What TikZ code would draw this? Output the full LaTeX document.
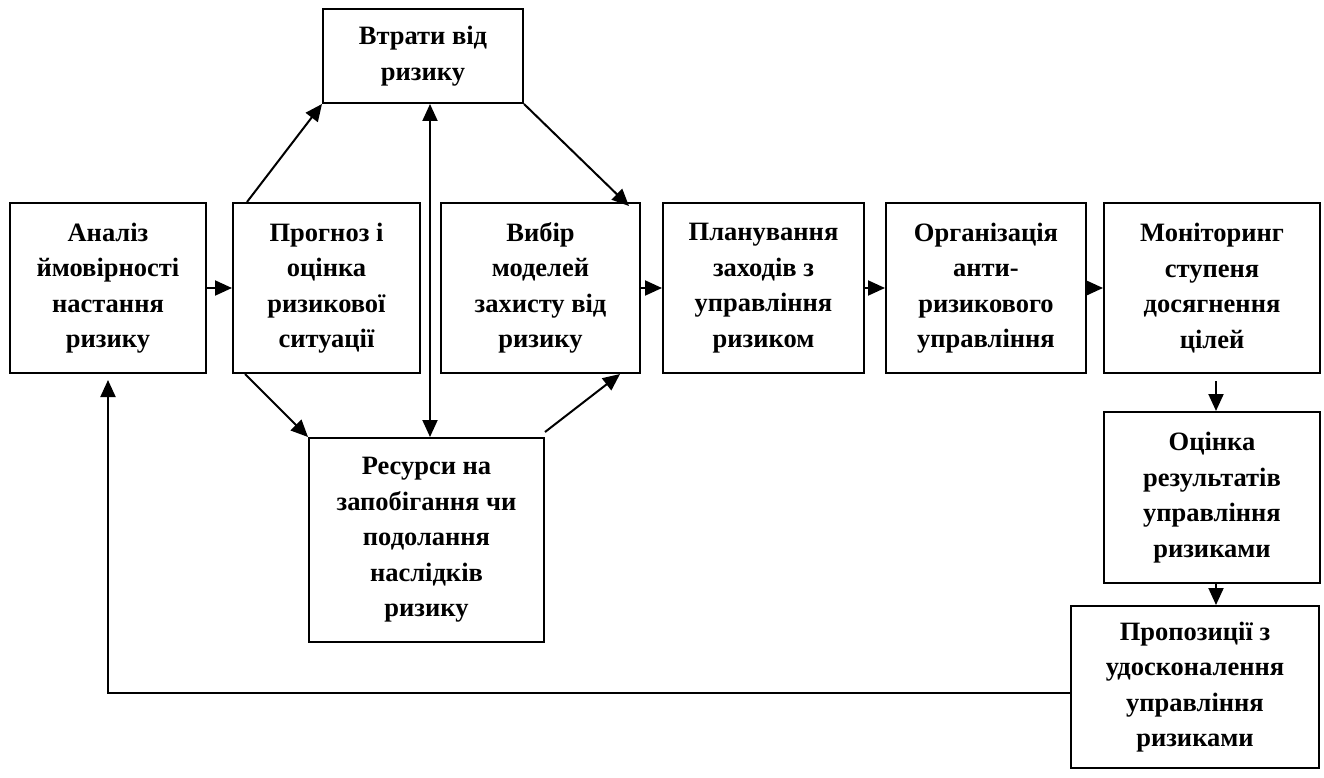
\documentclass[tikz,border=0pt]{standalone}
\usepackage{fontspec}
\setmainfont{Liberation Serif}
\usetikzlibrary{arrows.meta,calc}
\begin{document}
\begin{tikzpicture}[x=1pt,y=-1pt,
  box/.style={draw,line width=2pt,inner sep=0pt,align=center,
    font=\fontsize{26.5}{35.5}\selectfont\bfseries},
  conn/.style={line width=2pt,-{Triangle[length=17pt,width=15pt]}},
  dconn/.style={line width=2pt,{Triangle[length=17pt,width=15pt]}-{Triangle[length=17pt,width=15pt]}}]
\useasboundingbox (0,0) rectangle (1324,778);
\fill[white] (0,0) rectangle (1324,778);

\node[box,minimum width=196pt,minimum height=170pt] (b1) at (108,288) {Аналіз\\ймовірності\\настання\\ризику};
\node[box,minimum width=187pt,minimum height=170pt] (b2) at (326.5,288) {Прогноз і\\оцінка\\ризикової\\ситуації};
\node[box,minimum width=200pt,minimum height=94pt] (loss) at (423,56) {Втрати від\\ризику};
\node[box,minimum width=199pt,minimum height=170pt] (b4) at (540.5,288) {Вибір\\моделей\\захисту від\\ризику};
\node[box,minimum width=235pt,minimum height=204pt] (res) at (426.5,540) {Ресурси на\\запобігання чи\\подолання\\наслідків\\ризику};
\node[box,minimum width=201pt,minimum height=170pt] (b6) at (763.5,288) {Планування\\заходів з\\управління\\ризиком};
\node[box,minimum width=200pt,minimum height=170pt] (b7) at (986,288) {Організація\\анти-\\ризикового\\управління};
\node[box,minimum width=216pt,minimum height=170pt] (b8) at (1212,288) {Моніторинг\\ступеня\\досягнення\\цілей};
\node[box,minimum width=216pt,minimum height=171pt] (b9) at (1212,497.5) {Оцінка\\результатів\\управління\\ризиками};
\node[box,minimum width=248pt,minimum height=162pt] (b10) at (1195,687) {Пропозиції з\\удосконалення\\управління\\ризиками};

\coordinate (vx) at (430,0);
\coordinate (rx) at (1216,0);
\coordinate (fb) at (108,693);

\draw[conn] (b1.east) -- (b2.west);
\draw[conn] ($(b2.north west)+(15,0)$) -- (loss.south west);
\draw[conn] (loss.south east) -- ($(b4.north east)+(-12,4)$);
\draw[dconn] (loss.south -| vx) -- (res.north -| vx);
\draw[conn] ($(b2.south west)+(13,0)$) -- (res.north west);
\draw[conn] ($(res.north east)+(0,-5)$) -- ($(b4.south east)+(-21,0)$);
\draw[conn] (b4.east) -- (b6.west);
\draw[conn] (b6.east) -- (b7.west);
\draw[conn] (b7.east) -- (b8.west);
\draw[conn,shorten <=7pt] (b8.south -| rx) -- (b9.north -| rx);
\draw[conn] (b9.south -| rx) -- (b10.north -| rx);
\draw[conn,shorten >=6pt] (b10.west |- fb) -- (fb) -- (b1.south);
\end{tikzpicture}
\end{document}
